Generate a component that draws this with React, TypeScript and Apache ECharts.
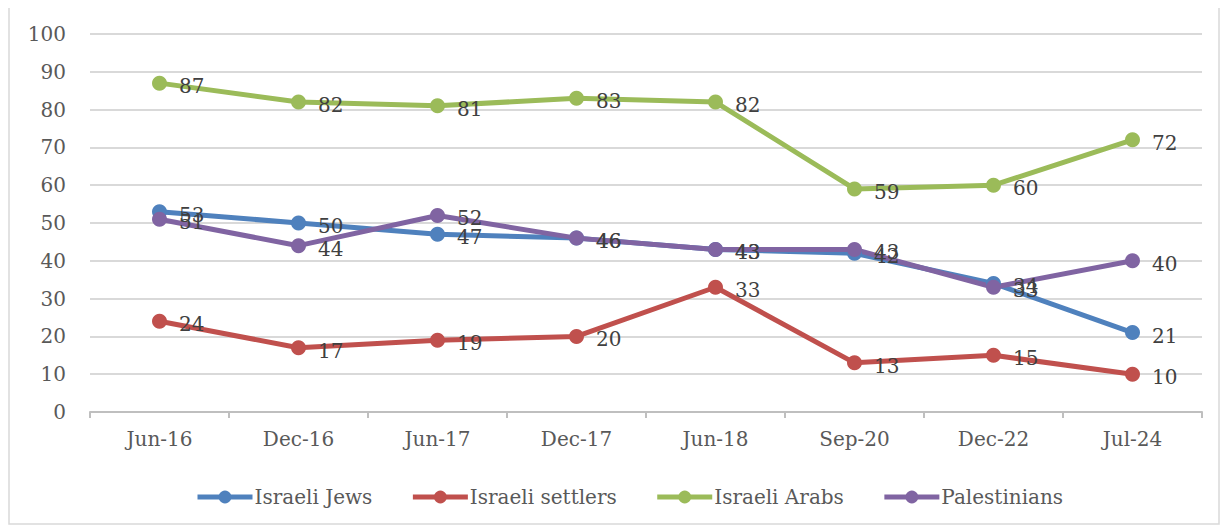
import React, { useEffect, useRef } from "react";
import * as echarts from "echarts";

const categories = ["Jun-16", "Dec-16", "Jun-17", "Dec-17", "Jun-18", "Sep-20", "Dec-22", "Jul-24"];
const israeliJews = [53, 50, 47, 46, 43, 42, 34, 21];
const israeliSettlers = [24, 17, 19, 20, 33, 13, 15, 10];
const israeliArabs = [87, 82, 81, 83, 82, 59, 60, 72];
const palestinians = [51, 44, 52, 46, 43, 43, 33, 40];
const yTicks = [0, 10, 20, 30, 40, 50, 60, 70, 80, 90, 100];

const FONT = "DejaVu Serif";

export default function App() {
  const ref = useRef<HTMLDivElement>(null);
  useEffect(() => {
    if (!ref.current) return;
    const chart = echarts.init(ref.current, null, { renderer: "svg" });
    const mk = (name: string, data: number[], color: string) => ({
      name,
      type: "line",
      data,
      symbol: "circle",
      symbolSize: 15,
      lineStyle: { width: 5, color },
      itemStyle: { color },
      label: {
        show: true,
        position: "right",
        distance: 12,
        offset: [0, 3],
        color: "#404040",
        fontFamily: FONT,
        fontSize: 20,
      },
      z: 2,
    });
    chart.setOption({
      animation: false,
      backgroundColor: "#ffffff",
      graphic: [
        {
          type: "rect",
          shape: { x: 1, y: 0, width: 1210, height: 519 },
          style: { fill: "none", stroke: "#d9d9d9", lineWidth: 1.5 },
          silent: true,
        },
      ],
      grid: { left: 82, right: 18, top: 29, bottom: 113 },
      xAxis: {
        type: "category",
        data: categories,
        boundaryGap: true,
        axisLine: { lineStyle: { color: "#bfbfbf", width: 2 } },
        axisTick: { show: true, length: 6, lineStyle: { color: "#bfbfbf", width: 2 } },
        axisLabel: { color: "#595959", fontFamily: FONT, fontSize: 20, margin: 17 },
      },
      yAxis: {
        type: "value",
        min: yTicks[0],
        max: yTicks[yTicks.length - 1],
        interval: 10,
        axisLine: { show: false },
        axisTick: { show: false },
        splitLine: { lineStyle: { color: "#d9d9d9", width: 2 } },
        axisLabel: { color: "#595959", fontFamily: FONT, fontSize: 20, margin: 24 },
      },
      legend: {
        top: 477,
        left: 182,
        itemGap: 38,
        itemWidth: 55,
        itemHeight: 16,
        lineStyle: { width: 5 },
        textStyle: { color: "#595959", fontFamily: FONT, fontSize: 20, padding: [0, 0, 0, -3] },
        data: ["Israeli Jews", "Israeli settlers", "Israeli Arabs", "Palestinians"],
      },
      series: [
        mk("Israeli Jews", israeliJews, "#4f81bd"),
        mk("Israeli settlers", israeliSettlers, "#c0504d"),
        mk("Israeli Arabs", israeliArabs, "#9bbb59"),
        mk("Palestinians", palestinians, "#8064a2"),
      ],
    });
    return () => chart.dispose();
  }, []);
  return <div ref={ref} style={{ width: 1212, height: 520, marginTop: -3 }} />;
}
